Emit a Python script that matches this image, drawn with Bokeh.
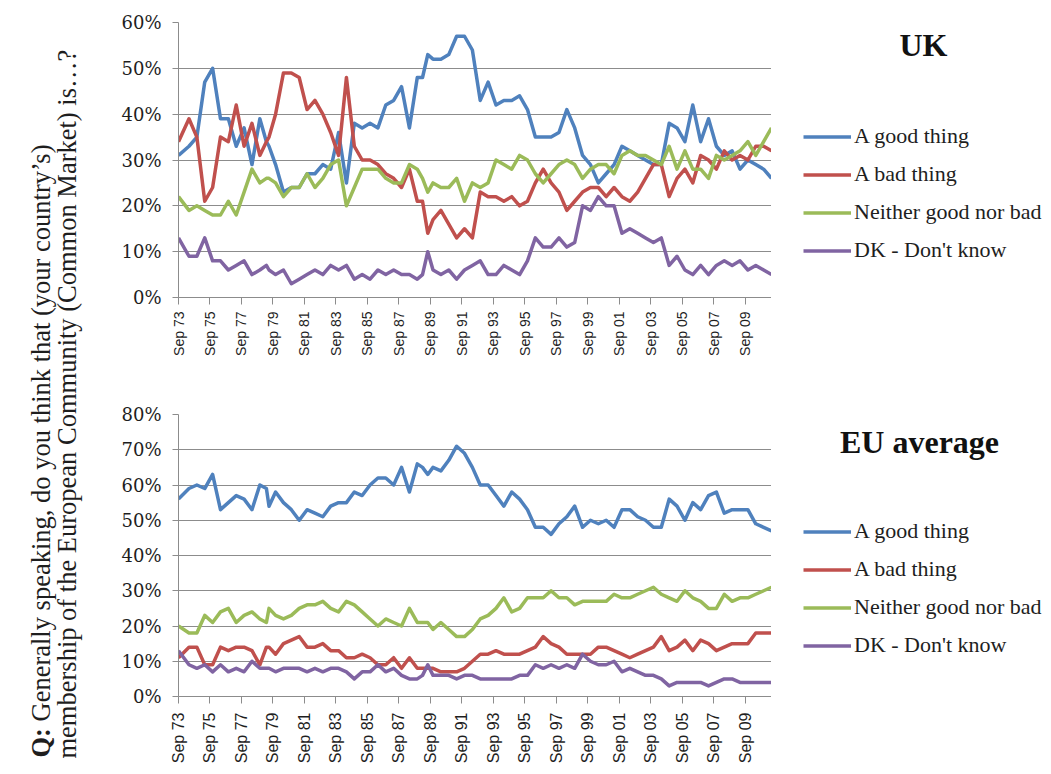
from math import pi
from bokeh.plotting import figure
from bokeh.models import Legend, LegendItem, Label, FixedTicker, PrintfTickFormatter
from bokeh.layouts import row, column
from bokeh.embed import file_html
from bokeh.resources import INLINE

# ---------------- data ----------------
survey_months = [
    "1973-09",
    "1974-05", "1974-11", "1975-05", "1975-11", "1976-05", "1976-11",
    "1977-05", "1977-11", "1978-05", "1978-11",
    "1979-04", "1979-06", "1979-11",
    "1980-05", "1980-11", "1981-05", "1981-11", "1982-05", "1982-11",
    "1983-05", "1983-11", "1984-05", "1984-11", "1985-05", "1985-11",
    "1986-05", "1986-11", "1987-05", "1987-11", "1988-05", "1988-11",
    "1989-03", "1989-07", "1989-11",
    "1990-05", "1990-11", "1991-05", "1991-11", "1992-05", "1992-11",
    "1993-05", "1993-11", "1994-05", "1994-11", "1995-05", "1995-11",
    "1996-05", "1996-11", "1997-05", "1997-11", "1998-05", "1998-11",
    "1999-05", "1999-11", "2000-05", "2000-11", "2001-05", "2001-11",
    "2002-05", "2002-11", "2003-05", "2003-11", "2004-05", "2004-11",
    "2005-05", "2005-11", "2006-05", "2006-11", "2007-05", "2007-11",
    "2008-05", "2008-11", "2009-05", "2009-11", "2010-05", "2010-11",
    "2011-05",
]

tick_labels = ["Sep 73", "Sep 75", "Sep 77", "Sep 79", "Sep 81", "Sep 83",
               "Sep 85", "Sep 87", "Sep 89", "Sep 91", "Sep 93", "Sep 95",
               "Sep 97", "Sep 99", "Sep 01", "Sep 03", "Sep 05", "Sep 07",
               "Sep 09"]

series_names = ["A good thing", "A bad thing", "Neither good nor bad", "DK - Don't know"]

uk_good = [31, 33, 35, 47, 50, 39, 39, 33, 37, 29, 39, 34, 33, 29, 23, 24, 24, 27, 27, 29,
           28, 36, 25, 38, 37, 38, 37, 42, 43, 46, 37, 48, 48, 53, 52, 52, 53, 57, 57, 54,
           43, 47, 42, 43, 43, 44, 41, 35, 35, 35, 36, 41, 37, 31, 29, 25, 27, 29, 33, 32,
           31, 30, 29, 29, 38, 37, 34, 42, 34, 39, 33, 31, 32, 28, 30, 29, 28, 26]
uk_bad = [34, 39, 35, 21, 24, 35, 34, 42, 33, 38, 31, 34, 35, 40, 49, 49, 48, 41, 43, 40,
          36, 31, 48, 33, 30, 30, 29, 27, 26, 24, 28, 21, 21, 14, 17, 19, 16, 13, 15, 13,
          23, 22, 22, 21, 22, 20, 21, 25, 28, 25, 23, 19, 21, 23, 24, 24, 22, 24, 22, 21,
          23, 26, 29, 29, 22, 26, 28, 25, 31, 30, 28, 32, 30, 31, 30, 33, 33, 32]
uk_neither = [22, 19, 20, 19, 18, 18, 21, 18, 23, 28, 25, 26, 26, 25, 22, 24, 24, 27, 24, 26,
              29, 30, 20, 24, 28, 28, 28, 26, 25, 25, 29, 28, 26, 23, 25, 24, 24, 26, 21, 25,
              24, 25, 30, 29, 28, 31, 30, 27, 25, 27, 29, 30, 29, 26, 28, 29, 29, 27, 31, 32,
              31, 31, 30, 29, 33, 28, 32, 28, 28, 26, 31, 30, 31, 32, 34, 31, 34, 37]
uk_dk = [13, 9, 9, 13, 8, 8, 6, 7, 8, 5, 6, 7, 6, 5, 6, 3, 4, 5, 6, 5,
         7, 6, 7, 4, 5, 4, 6, 5, 6, 5, 5, 4, 5, 10, 6, 5, 6, 4, 6, 7,
         8, 5, 5, 7, 6, 5, 8, 13, 11, 11, 13, 11, 12, 20, 19, 22, 20, 20, 14, 15,
         14, 13, 12, 13, 7, 9, 6, 5, 7, 5, 7, 8, 7, 8, 6, 7, 6, 5]

eu_good = [56, 59, 60, 59, 63, 53, 55, 57, 56, 53, 60, 59, 54, 58, 55, 53, 50, 53, 52, 51,
           54, 55, 55, 58, 57, 60, 62, 62, 60, 65, 58, 66, 65, 63, 65, 64, 67, 71, 69, 65,
           60, 60, 57, 54, 58, 56, 53, 48, 48, 46, 49, 51, 54, 48, 50, 49, 50, 48, 53, 53,
           51, 50, 48, 48, 56, 54, 50, 55, 53, 57, 58, 52, 53, 53, 53, 49, 48, 47]
eu_bad = [11, 14, 14, 9, 9, 14, 13, 14, 14, 13, 9, 14, 14, 12, 15, 16, 17, 14, 14, 15,
          13, 13, 11, 11, 12, 11, 9, 9, 11, 8, 11, 8, 8, 8, 8, 7, 7, 7, 8, 10,
          12, 12, 13, 12, 12, 12, 13, 14, 17, 15, 14, 12, 12, 12, 12, 14, 14, 13, 12, 11,
          12, 13, 14, 17, 13, 14, 16, 13, 16, 15, 13, 14, 15, 15, 15, 18, 18, 18]
eu_neither = [20, 18, 18, 23, 21, 24, 25, 21, 23, 24, 22, 21, 25, 23, 22, 23, 25, 26, 26, 27,
              25, 24, 27, 26, 24, 22, 20, 22, 21, 20, 25, 21, 21, 21, 19, 21, 19, 17, 17, 19,
              22, 23, 25, 28, 24, 25, 28, 28, 28, 30, 28, 28, 26, 27, 27, 27, 27, 29, 28, 28,
              29, 30, 31, 29, 28, 27, 30, 28, 27, 25, 25, 29, 27, 28, 28, 29, 30, 31]
eu_dk = [13, 9, 8, 9, 7, 9, 7, 8, 7, 10, 8, 8, 8, 7, 8, 8, 8, 7, 8, 7,
         8, 8, 7, 5, 7, 7, 9, 7, 8, 6, 5, 5, 6, 9, 6, 6, 6, 5, 6, 6,
         5, 5, 5, 5, 5, 6, 6, 9, 8, 9, 8, 9, 8, 12, 10, 9, 9, 10, 7, 8,
         7, 6, 6, 5, 3, 4, 4, 4, 4, 3, 4, 5, 5, 4, 4, 4, 4, 4]

colors = ["#4F81BD", "#C0504D", "#9BBB59", "#8064A2"]

# ---------------- helpers ----------------
def month_index(s):
    y, m = s.split("-")
    return (int(y) - 1973) * 12 + (int(m) - 9)

def label_index(lbl):
    yy = int(lbl.split()[1])
    year = 1900 + yy if yy > 50 else 2000 + yy
    return (year - 1973) * 12

xs = [month_index(s) for s in survey_months]
tick_pos = [label_index(t) for t in tick_labels]

GRID = "#8c8c8c"
TXT = "#1e1e1e"
SIDE_W = 272


def make_panel(title, series, y_max, frame_h, border_top, border_bottom,
               xl_size, xl_standoff, legend_vy, title_x, title_y):
    for s in series:
        assert len(s) == len(xs), (title, len(s))
    p = figure(frame_width=593, frame_height=frame_h,
               x_range=(xs[0], xs[-1]), y_range=(0, y_max),
               output_backend="svg", toolbar_location=None,
               min_border_left=89, min_border_right=0,
               min_border_top=border_top, min_border_bottom=border_bottom)
    p.outline_line_color = None

    p.xgrid.visible = False
    p.ygrid.grid_line_color = GRID
    p.ygrid.grid_line_width = 1

    p.yaxis.ticker = FixedTicker(ticks=list(range(0, y_max + 1, 10)))
    p.yaxis.formatter = PrintfTickFormatter(format="%d%%")
    p.yaxis.major_label_text_font = "DejaVu Serif"
    p.yaxis.major_label_text_font_size = "18px"
    p.yaxis.major_label_text_color = TXT
    p.yaxis.major_tick_out = 6
    p.yaxis.major_tick_in = 0
    p.yaxis.minor_tick_out = 0
    p.yaxis.minor_tick_in = 0
    p.yaxis.major_label_standoff = 11
    p.yaxis.axis_line_color = GRID
    p.yaxis.major_tick_line_color = GRID

    p.xaxis.ticker = FixedTicker(ticks=tick_pos)
    p.xaxis.major_label_overrides = {t: l for t, l in zip(tick_pos, tick_labels)}
    p.xaxis.major_label_orientation = pi / 2
    p.xaxis.major_label_text_font = "Liberation Sans"
    p.xaxis.major_label_text_font_size = xl_size
    p.xaxis.major_label_text_color = TXT
    p.xaxis.major_tick_out = 7
    p.xaxis.major_tick_in = 0
    p.xaxis.minor_tick_out = 0
    p.xaxis.minor_tick_in = 0
    p.xaxis.major_label_standoff = xl_standoff
    p.xaxis.axis_line_color = GRID
    p.xaxis.major_tick_line_color = GRID

    for vals, c in zip(series, colors):
        p.line(xs, vals, line_color=c, line_width=3.5, line_join="round")

    # side area (its frame is aligned with the chart frame) holding title + legend.
    # The legend proxies plot the same series in a window where they fall outside view.
    total_h = border_top + frame_h + border_bottom
    side = figure(width=SIDE_W, height=total_h, x_range=(-2, -1), y_range=(-2, -1),
                  x_axis_type=None, y_axis_type=None, min_border=0,
                  output_backend="svg", toolbar_location=None)
    side.outline_line_color = None
    side.grid.visible = False
    items = []
    for name, vals, c in zip(series_names, series, colors):
        r = side.line(xs, vals, line_color=c, line_width=3.5)
        items.append(LegendItem(label=name, renderers=[r]))
    leg = Legend(items=items, location=(32, legend_vy), orientation="vertical",
                 label_text_font="Liberation Serif", label_text_font_size="22px",
                 label_text_color=TXT, glyph_width=48, glyph_height=25,
                 label_height=25, spacing=12, padding=0, margin=0,
                 label_standoff=3, border_line_alpha=0, background_fill_alpha=0)
    side.add_layout(leg)
    side.add_layout(Label(x=title_x, y=title_y, x_units="screen", y_units="screen",
                          text=title, text_font="Liberation Serif",
                          text_font_style="bold", text_font_size="32px",
                          text_color="#111111", text_align="center",
                          text_baseline="alphabetic"))
    return row(p, side)


top = make_panel("UK", [uk_good, uk_bad, uk_neither, uk_dk], 60, 275, 22, 96,
                 "14px", 7, 34, 152, 253)
bottom = make_panel("EU average", [eu_good, eu_bad, eu_neither, eu_dk], 80, 282, 21, 70,
                    "16px", 9, 38, 148, 255)

# left rotated question label
lab = figure(width=89, height=766, x_range=(0, 1), y_range=(0, 1),
             x_axis_type=None, y_axis_type=None, min_border=0,
             output_backend="svg", toolbar_location=None)
lab.outline_line_color = None
lab.grid.visible = False
common = dict(x_units="screen", y_units="screen", angle=pi / 2,
              text_font="Liberation Serif", text_font_size="26.5px",
              text_color=TXT, text_align="left", text_baseline="alphabetic")
lab.add_layout(Label(x=40, y=9, text="Q:", text_font_style="bold", **common))
lab.add_layout(Label(x=40, y=45,
                     text="Generally speaking, do you think that (your country\u2019s)",
                     **common))
lab.add_layout(Label(x=66, y=8,
                     text="membership of the European Community (Common Market) is\u2026?",
                     **common))

layout = row(lab, column(top, bottom))

open("out.html", "w").write(file_html(layout, INLINE))
